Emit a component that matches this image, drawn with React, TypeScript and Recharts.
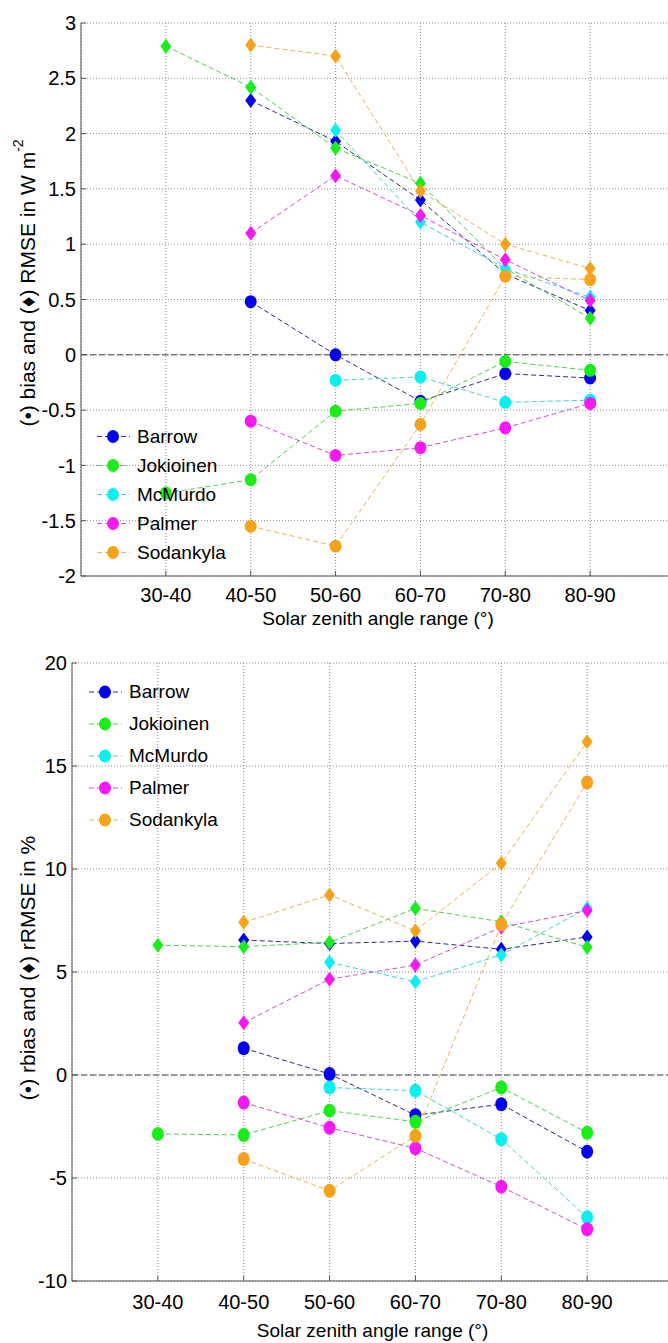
import React from "react";
import { ComposedChart, Line, XAxis, YAxis, CartesianGrid, ReferenceLine, Legend, Label } from "recharts";

const ranges = ["30-40", "40-50", "50-60", "60-70", "70-80", "80-90"];
const stations = ["Barrow", "Jokioinen", "McMurdo", "Palmer", "Sodankyla"];

// top panel, W m-2 : circles = bias, diamonds = RMSE
const biasBarrow = [null, 0.48, 0.0, -0.42, -0.17, -0.21];
const rmseBarrow = [null, 2.3, 1.93, 1.4, 0.73, 0.4];
const biasJokioinen = [-1.25, -1.13, -0.51, -0.44, -0.06, -0.14];
const rmseJokioinen = [2.79, 2.42, 1.87, 1.55, 0.78, 0.33];
const biasMcMurdo = [null, null, -0.23, -0.2, -0.43, -0.41];
const rmseMcMurdo = [null, null, 2.03, 1.2, 0.78, 0.52];
const biasPalmer = [null, -0.6, -0.91, -0.84, -0.66, -0.44];
const rmsePalmer = [null, 1.1, 1.62, 1.26, 0.86, 0.49];
const biasSodankyla = [null, -1.55, -1.73, -0.63, 0.71, 0.68];
const rmseSodankyla = [null, 2.8, 2.7, 1.48, 1.0, 0.78];

// bottom panel, % : circles = rbias, diamonds = rRMSE
const rbiasBarrow = [null, 1.3, 0.05, -1.95, -1.42, -3.72];
const rrmseBarrow = [null, 6.55, 6.38, 6.5, 6.1, 6.7];
const rbiasJokioinen = [-2.86, -2.91, -1.73, -2.27, -0.61, -2.8];
const rrmseJokioinen = [6.3, 6.23, 6.44, 8.09, 7.44, 6.2];
const rbiasMcMurdo = [null, null, -0.61, -0.76, -3.12, -6.91];
const rrmseMcMurdo = [null, null, 5.47, 4.53, 5.83, 8.1];
const rbiasPalmer = [null, -1.34, -2.56, -3.56, -5.42, -7.49];
const rrmsePalmer = [null, 2.54, 4.65, 5.34, 7.17, 7.98];
const rbiasSodankyla = [null, -4.08, -5.62, -2.96, 7.3, 14.2];
const rrmseSodankyla = [null, 7.41, 8.74, 7.0, 10.28, 16.18];

const topTicks = [-2, -1.5, -1, -0.5, 0, 0.5, 1, 1.5, 2, 2.5, 3];
const bottomTicks = [-10, -5, 0, 5, 10, 15, 20];

const markerColors = ["#0000ee", "#1aee1a", "#0af0f0", "#f51af5", "#f7a21b"];
const lineColors = ["#2b2b8f", "#4fcf4f", "#3fd6d6", "#cf4fcf", "#e6b55a"];

const font = "'Liberation Sans', Arial, sans-serif";

function buildRows(bias: (number | null)[][], err: (number | null)[][]) {
  return ranges.map((r, i) => {
    const row: Record<string, any> = { x: i + 2, range: r };
    stations.forEach((s, k) => {
      row[s + "_b"] = bias[k][i];
      row[s + "_e"] = err[k][i];
    });
    return row;
  });
}

const topRows = buildRows(
  [biasBarrow, biasJokioinen, biasMcMurdo, biasPalmer, biasSodankyla],
  [rmseBarrow, rmseJokioinen, rmseMcMurdo, rmsePalmer, rmseSodankyla]
);
const bottomRows = buildRows(
  [rbiasBarrow, rbiasJokioinen, rbiasMcMurdo, rbiasPalmer, rbiasSodankyla],
  [rrmseBarrow, rrmseJokioinen, rrmseMcMurdo, rrmsePalmer, rrmseSodankyla]
);

const circleDot = (color: string, rx: number, ry: number) => (p: any) => {
  if (p.cy == null || p.value == null) return <g key={"c" + p.index} />;
  return <ellipse key={"c" + p.index} cx={p.cx} cy={p.cy} rx={rx} ry={ry} fill={color} />;
};

const diamondDot = (color: string, hw: number, hh: number) => (p: any) => {
  if (p.cy == null || p.value == null) return <g key={"d" + p.index} />;
  const { cx, cy } = p;
  return (
    <path
      key={"d" + p.index}
      d={`M${cx},${cy - hh}L${cx + hw},${cy}L${cx},${cy + hh}L${cx - hw},${cy}Z`}
      fill={color}
    />
  );
};

type PanelProps = {
  rows: any[];
  height: number;
  margin: { top: number; right: number; bottom: number; left: number };
  domain: [number, number];
  ticks: number[];
  xTickMargin: number;
  yLabel: string;
  yLabelSup?: string;
  yLabelY: number;
  xTitleY: number;
  legendPos: { left: number; top: number };
  legendRow: number;
  circleRy: number;
};

function Panel(props: PanelProps) {
  const yLab = () => (
    <text
      x={27}
      y={props.yLabelY}
      transform={`rotate(-90 27 ${props.yLabelY})`}
      textAnchor="middle"
      dominantBaseline="central"
      fontSize={21}
      fontFamily={font}
      fill="#000"
    >
      {props.yLabel}
      {props.yLabelSup && (
        <tspan dy={-9} fontSize={14}>
          {props.yLabelSup}
        </tspan>
      )}
    </text>
  );
  const xTitle = (p: any) => {
    const vb = p.viewBox || {};
    return (
      <text x={vb.x + vb.width / 2} y={props.xTitleY} textAnchor="middle" fontSize={19} fontFamily={font} fill="#000">
        Solar zenith angle range (°)
      </text>
    );
  };
  const legend = () => (
    <div style={{ fontFamily: font, fontSize: 19, color: "#000" }}>
      {stations.map((s, i) => (
        <div key={s} style={{ display: "flex", alignItems: "center", height: props.legendRow }}>
          <svg width={45} height={props.legendRow} style={{ display: "block" }}>
            <line
              x1={5}
              x2={38}
              y1={props.legendRow / 2}
              y2={props.legendRow / 2}
              stroke={lineColors[i]}
              strokeDasharray="5 3"
            />
            <ellipse cx={21} cy={props.legendRow / 2} rx={6} ry={6.5} fill={markerColors[i]} />
          </svg>
          <span>{s}</span>
        </div>
      ))}
    </div>
  );

  return (
    <ComposedChart width={690} height={props.height} data={props.rows} margin={props.margin}>
      <CartesianGrid stroke="#8a8a8a" strokeDasharray="1 2" />
      <ReferenceLine y={0} stroke="#444" strokeDasharray="6 3" />
      <XAxis
        dataKey="x"
        type="number"
        domain={[1, 8]}
        ticks={[2, 3, 4, 5, 6, 7]}
        allowDataOverflow
        tickFormatter={(v: number) => ranges[v - 2] ?? ""}
        height={50}
        tickSize={-5}
        tickMargin={props.xTickMargin}
        stroke="#555"
        tick={{ fontSize: 20, fill: "#000", fontFamily: font }}
      >
        <Label content={xTitle} />
      </XAxis>
      <XAxis
        xAxisId="top"
        orientation="top"
        dataKey="x"
        type="number"
        domain={[1, 8]}
        ticks={[2, 3, 4, 5, 6, 7]}
        height={0}
        tickSize={-5}
        tickFormatter={() => ""}
        stroke="#555"
      />
      <YAxis
        type="number"
        domain={props.domain}
        ticks={props.ticks}
        allowDataOverflow
        width={62}
        tickSize={-5}
        tickMargin={10}
        stroke="#555"
        tick={{ fontSize: 20, fill: "#000", fontFamily: font }}
      >
        <Label content={yLab} />
      </YAxis>
      <Legend
        content={legend}
        layout="vertical"
        align="center"
        verticalAlign="middle"
        wrapperStyle={{ left: props.legendPos.left, top: props.legendPos.top, width: "auto" }}
      />
      {stations.map((s, i) => [
        <Line
          key={s + "_b"}
          dataKey={s + "_b"}
          type="linear"
          stroke={lineColors[i]}
          strokeWidth={1}
          strokeDasharray="5 3"
          dot={circleDot(markerColors[i], 6, props.circleRy)}
          activeDot={false}
          isAnimationActive={false}
          legendType="none"
        />,
        <Line
          key={s + "_e"}
          dataKey={s + "_e"}
          type="linear"
          stroke={lineColors[i]}
          strokeWidth={1}
          strokeDasharray="5 3"
          dot={diamondDot(markerColors[i], 5.5, 7.5)}
          activeDot={false}
          isAnimationActive={false}
          legendType="none"
        />,
      ])}
    </ComposedChart>
  );
}

export default function App() {
  return (
    <div style={{ position: "fixed", left: 0, top: 0, width: 668, height: 1343, overflow: "hidden", background: "#fff" }}>
      <div style={{ position: "absolute", left: 0, top: 0 }}>
        <Panel
          rows={topRows}
          height={640}
          margin={{ top: 23, right: 15, bottom: 14, left: 19 }}
          domain={[-2, 3]}
          ticks={topTicks}
          xTickMargin={17}
          yLabel="(•) bias and (♦) RMSE in W m"
          yLabelSup="-2"
          yLabelY={283}
          xTitleY={625}
          legendPos={{ left: 92, top: 422 }}
          legendRow={29}
          circleRy={6.5}
        />
      </div>
      <div style={{ position: "absolute", left: 0, top: 640 }}>
        <Panel
          rows={bottomRows}
          height={703}
          margin={{ top: 23, right: 17, bottom: 12, left: 10 }}
          domain={[-10, 20]}
          ticks={bottomTicks}
          xTickMargin={19}
          yLabel="(•) rbias and (♦) rRMSE in %"
          yLabelY={328}
          xTitleY={697}
          legendPos={{ left: 84, top: 36 }}
          legendRow={32}
          circleRy={7}
        />
      </div>
    </div>
  );
}
